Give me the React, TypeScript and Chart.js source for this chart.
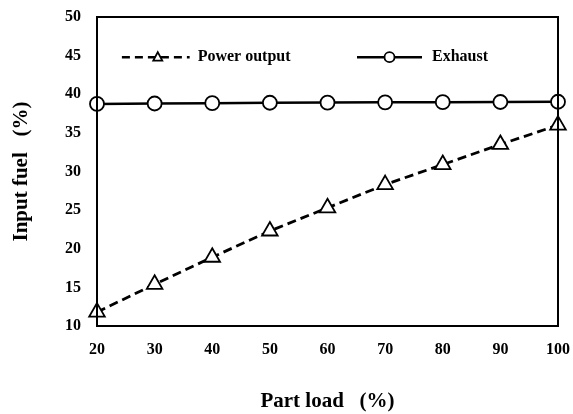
import React, { useEffect, useRef } from "react";
import { Chart, registerables } from "chart.js";

Chart.register(...registerables);

const partLoad = [20, 30, 40, 50, 60, 70, 80, 90, 100];
const powerOutput = [11.8, 15.4, 18.9, 22.3, 25.3, 28.3, 30.9, 33.5, 36.0];
const exhaust = [38.75, 38.8, 38.85, 38.9, 38.92, 38.95, 38.98, 39.0, 39.03];
const seriesNames = ["Power output", "Exhaust"];
const xTitle = "Part load   (%)";
const yTitle = "Input fuel   (%)";

const FONT = "'Liberation Serif', 'Times New Roman', serif";

const boxPlugin = {
  id: "boxAndLegend",
  afterDatasetsDraw(chart: any) {
    const { ctx, chartArea } = chart;
    const { left, right, top, bottom } = chartArea;
    ctx.save();
    ctx.strokeStyle = "#000";
    ctx.lineWidth = 2;
    ctx.setLineDash([]);
    ctx.strokeRect(left, top, right - left, bottom - top);

    // legend
    const w = right - left;
    const ly = top + (bottom - top) * 0.13;
    ctx.font = `bold 16px ${FONT}`;
    ctx.fillStyle = "#000";
    ctx.textBaseline = "middle";
    ctx.textAlign = "left";

    // power output item
    const p0 = left + w * 0.054;
    const p1 = left + w * 0.201;
    ctx.lineWidth = 2.5;
    ctx.setLineDash([8, 5]);
    ctx.beginPath();
    ctx.moveTo(p0, ly);
    ctx.lineTo(p1, ly);
    ctx.stroke();
    ctx.setLineDash([]);
    const pc = (p0 + p1) / 2 + 2;
    ctx.lineWidth = 1.8;
    ctx.fillStyle = "#fff";
    ctx.beginPath();
    ctx.moveTo(pc, ly - 5);
    ctx.lineTo(pc + 4.5, ly + 3.5);
    ctx.lineTo(pc - 4.5, ly + 3.5);
    ctx.closePath();
    ctx.fill();
    ctx.stroke();
    ctx.fillStyle = "#000";
    ctx.fillText(seriesNames[0], p1 + 8, ly);

    // exhaust item
    const e0 = left + w * 0.564;
    const e1 = left + w * 0.705;
    ctx.lineWidth = 2.5;
    ctx.beginPath();
    ctx.moveTo(e0, ly);
    ctx.lineTo(e1, ly);
    ctx.stroke();
    const ec = (e0 + e1) / 2;
    ctx.lineWidth = 1.8;
    ctx.fillStyle = "#fff";
    ctx.beginPath();
    ctx.arc(ec, ly, 5, 0, Math.PI * 2);
    ctx.fill();
    ctx.stroke();
    ctx.fillStyle = "#000";
    ctx.fillText(seriesNames[1], e1 + 10, ly);
    ctx.restore();
  },
};

export default function App() {
  const ref = useRef<HTMLCanvasElement>(null);
  useEffect(() => {
    const chart = new Chart(ref.current!, {
      type: "line",
      data: {
        datasets: [
          {
            label: seriesNames[0],
            data: partLoad.map((x, i) => ({ x, y: powerOutput[i] })),
            borderColor: "#000",
            borderWidth: 2.8,
            borderDash: [9, 5],
            pointStyle: "triangle",
            pointRadius: 9,
            pointBorderWidth: 1.8,
            pointBackgroundColor: "#fff",
            pointBorderColor: "#000",
            clip: false as any,
          },
          {
            label: seriesNames[1],
            data: partLoad.map((x, i) => ({ x, y: exhaust[i] })),
            borderColor: "#000",
            borderWidth: 2.5,
            pointStyle: "circle",
            pointRadius: 7,
            pointBorderWidth: 1.8,
            pointBackgroundColor: "#fff",
            pointBorderColor: "#000",
            clip: false as any,
          },
        ],
      },
      options: {
        responsive: false,
        animation: false,
        layout: { autoPadding: false, padding: { top: 17, right: 15, left: 0, bottom: 0 } },
        plugins: { legend: { display: false }, tooltip: { enabled: false } },
        scales: {
          x: {
            type: "linear",
            min: 20,
            max: 100,
            ticks: {
              stepSize: 10,
              color: "#000",
              padding: 14,
              font: { family: FONT, size: 16, weight: "bold" },
            },
            grid: { display: false, drawTicks: false },
            border: { display: false },
            title: {
              display: true,
              text: xTitle,
              color: "#000",
              font: { family: FONT, size: 21, weight: "bold" },
              padding: { top: 0, bottom: 0 },
            },
            afterFit: (s: any) => {
              s.height = 88;
              s.paddingLeft = 0;
              s.paddingRight = 0;
              s.paddingTop = 0;
              s.paddingBottom = 0;
            },
          },
          y: {
            min: 10,
            max: 50,
            ticks: {
              stepSize: 5,
              color: "#000",
              padding: 16,
              font: { family: FONT, size: 16, weight: "bold" },
            },
            grid: { display: false, drawTicks: false },
            border: { display: false },
            title: {
              display: true,
              text: yTitle,
              color: "#000",
              font: { family: FONT, size: 21, weight: "bold" },
              padding: { top: 9, bottom: 0 },
            },
            afterFit: (s: any) => {
              s.width = 97;
              s.paddingLeft = 0;
              s.paddingRight = 0;
              s.paddingTop = 0;
              s.paddingBottom = 0;
            },
          },
        },
      },
      plugins: [boxPlugin],
    });
    return () => chart.destroy();
  }, []);
  return (
    <div style={{ position: "fixed", left: 0, top: 0, width: 573, height: 414, background: "#fff" }}>
      <canvas ref={ref} width={573} height={414} style={{ width: 573, height: 414, display: "block" }} />
    </div>
  );
}
